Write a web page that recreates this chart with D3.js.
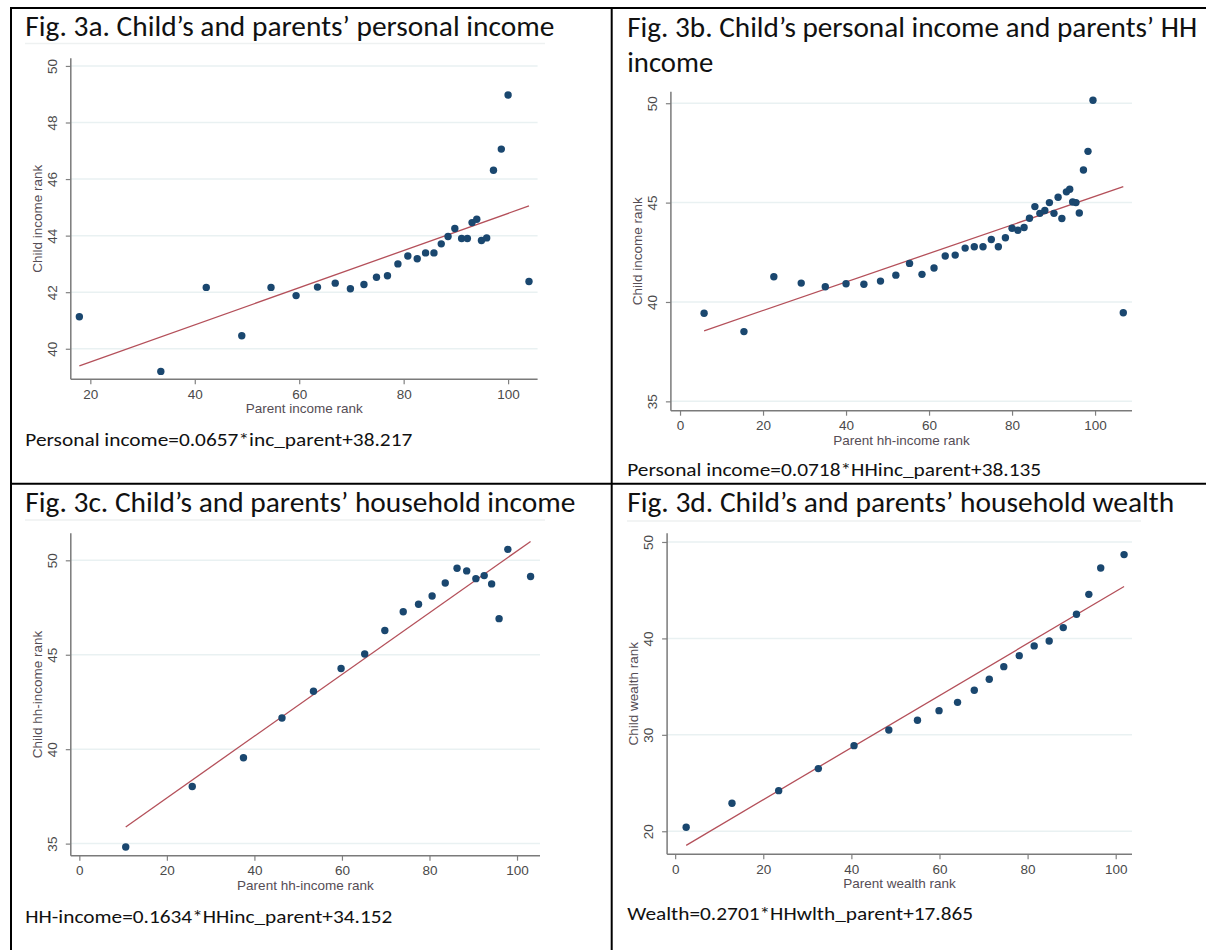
<!DOCTYPE html>
<html lang="en">
<head>
<meta charset="UTF-8">
<title>Fig. 3 intergenerational ranks</title>
<style>
  body { margin: 0; background: #fff; }
  svg { display: block; }
  .ttl { font-family: Carlito, Calibri, Lato, "Open Sans", sans-serif; fill: #111; }
  .tick text { font-family: "Liberation Sans", Arial, sans-serif; font-size: 13.5px; fill: #4a4a4a; }
  .axt { font-family: "Liberation Sans", Arial, sans-serif; font-size: 13.5px; fill: #554d55; }
</style>
</head>
<body>
<svg width="1206" height="950"></svg>
<script src="https://d3js.org/d3.v7.min.js"></script>
<script>
// ---- data ----
// 3a: personal income, child vs parent
const xA = [17.9, 33.5, 42.2, 49.0, 54.6, 59.4, 63.5, 66.9, 69.8, 72.4, 74.8, 76.9, 78.9, 80.8, 82.6,
            84.2, 85.8, 87.2, 88.5, 89.8, 91.1, 92.2, 93.1, 94.0, 94.9, 95.9, 97.2, 98.7, 100.0, 104.0];
const yA = [41.13, 39.2, 42.17, 40.46, 42.17, 41.88, 42.18, 42.32, 42.12, 42.27, 42.53, 42.58, 43.0, 43.28, 43.18,
            43.39, 43.39, 43.71, 43.97, 44.25, 43.9, 43.9, 44.46, 44.58, 43.83, 43.92, 46.31, 47.06, 48.97, 42.38];
// 3b: child personal income vs parents' HH income
const xB = [5.8, 15.4, 22.6, 29.2, 35.0, 40.0, 44.3, 48.3, 52.0, 55.3, 58.3, 61.2, 63.9, 66.3, 68.7, 70.9, 73.0,
            75.0, 76.7, 78.4, 80.0, 81.4, 82.9, 84.2, 85.5, 86.7, 87.9, 89.0, 90.1, 91.1, 92.0, 93.1, 93.9,
            94.6, 95.4, 96.2, 97.2, 98.3, 99.5, 106.8];
const yB = [39.43, 38.51, 41.27, 40.95, 40.77, 40.92, 40.89, 41.05, 41.35, 41.94, 41.39, 41.71, 42.31, 42.36, 42.71, 42.78, 42.78,
            43.14, 42.78, 43.23, 43.71, 43.61, 43.75, 44.21, 44.80, 44.46, 44.60, 45.0, 44.46, 45.27, 44.20, 45.54, 45.67,
            45.03, 45.0, 44.48, 46.64, 47.58, 50.15, 39.46];
// 3c: household income
const xC = [10.6, 25.8, 37.5, 46.3, 53.5, 59.8, 65.2, 69.8, 74.0, 77.5, 80.6, 83.6, 86.3, 88.5, 90.6, 92.5, 94.2, 95.9, 97.9, 103.1];
const yC = [34.82, 38.02, 39.55, 41.65, 43.07, 44.27, 45.04, 46.28, 47.28, 47.67, 48.11, 48.8, 49.58, 49.44, 49.03, 49.19, 48.75, 46.91, 50.58, 49.14];
// 3d: household wealth
const xD = [2.5, 12.9, 23.5, 32.5, 40.6, 48.5, 55.0, 59.9, 64.1, 67.9, 71.3, 74.6, 78.1, 81.5, 84.9, 88.1, 91.1, 93.9, 96.6, 101.9];
const yD = [20.41, 22.9, 24.21, 26.5, 28.88, 30.5, 31.51, 32.51, 33.37, 34.62, 35.76, 37.07, 38.21, 39.22, 39.73, 41.12, 42.5, 44.57, 47.30, 48.69];

// fitted lines (slope, intercept) as printed under each figure
const fitA = [0.0657, 38.217];
const fitB = [0.0718, 38.135];
const fitC = [0.1634, 34.152];
const fitD = [0.2701, 17.865];

// tick labels
const xTicks0 = [0, 20, 40, 60, 80, 100];
const xTicksA = [20, 40, 60, 80, 100];
const yTicksA = [40, 42, 44, 46, 48, 50];
const yTicksB = [35, 40, 45, 50];
const yTicksC = [35, 40, 45, 50];
const yTicksD = [20, 30, 40, 50];

const svg = d3.select("svg");

// table frame
const frame = svg.append("g").attr("stroke", "#000").attr("stroke-width", 2);
frame.append("line").attr("x1", 10).attr("x2", 1206).attr("y1", 8).attr("y2", 8);
frame.append("line").attr("x1", 11).attr("x2", 11).attr("y1", 7).attr("y2", 950);
frame.append("line").attr("x1", 611.7).attr("x2", 611.7).attr("y1", 7).attr("y2", 950);
frame.append("line").attr("x1", 10).attr("x2", 1206).attr("y1", 483.7).attr("y2", 483.7);

const panels = [
  { x: xA, y: yA, fit: fitA, xt: xTicksA, yt: yTicksA,
    box: [70.8, 537.6, 58.3, 379.3], xd: [16.26, 105.65], yd: [38.92, 50.27],
    title: [["Fig. 3a. Child’s and parents’ personal income", 25.3, 36, 529]],
    sep: [25, 545, 43.5],
    xlab: "Parent income rank", ylab: "Child income rank",
    formula: ["Personal income=0.0657*inc_parent+38.217", 25.3, 446, 387] },
  { x: xB, y: yB, fit: fitB, xt: xTicks0, yt: yTicksB,
    box: [670.9, 1132, 91.7, 410.7], xd: [-2.2, 108.9], yd: [34.53, 50.58],
    title: [["Fig. 3b. Child’s personal income and parents’ HH", 627.2, 36.7, 570],
            ["income", 627.2, 71.7, 86]],
    sep: null,
    xlab: "Parent hh-income rank", ylab: "Child income rank",
    formula: ["Personal income=0.0718*HHinc_parent+38.135", 627.2, 476, 414] },
  { x: xC, y: yC, fit: fitC, xt: xTicks0, yt: yTicksC,
    box: [70.8, 540, 533.3, 855.7], xd: [-1.95, 105.25], yd: [34.36, 51.43],
    title: [["Fig. 3c. Child’s and parents’ household income", 25.3, 511.7, 550]],
    sep: [25, 545, 520],
    xlab: "Parent hh-income rank", ylab: "Child hh-income rank",
    formula: ["HH-income=0.1634*HHinc_parent+34.152", 25.3, 923, 367] },
  { x: xD, y: yD, fit: fitD, xt: xTicks0, yt: yTicksD,
    box: [667.1, 1132, 533.3, 854.3], xd: [-1.83, 103.7], yd: [17.61, 50.9],
    title: [["Fig. 3d. Child’s and parents’ household wealth", 627.2, 511.7, 547]],
    sep: [627, 1141, 521],
    xlab: "Parent wealth rank", ylab: "Child wealth rank",
    formula: ["Wealth=0.2701*HHwlth_parent+17.865", 627.2, 920, 346] }
];

panels.forEach(p => {
  const [l, r, t, b] = p.box;
  const g = svg.append("g");

  p.title.forEach(([txt, tx, ty, w]) => {
    g.append("text").attr("class", "ttl").attr("x", tx).attr("y", ty)
      .attr("font-size", 28).attr("textLength", w).attr("lengthAdjust", "spacingAndGlyphs")
      .text(txt);
  });
  if (p.sep) {
    g.append("line").attr("x1", p.sep[0]).attr("x2", p.sep[1]).attr("y1", p.sep[2]).attr("y2", p.sep[2])
      .attr("stroke", "#eef1f1").attr("stroke-width", 1.5);
  }

  const x = d3.scaleLinear().domain(p.xd).range([l, r]);
  const y = d3.scaleLinear().domain(p.yd).range([b, t]);

  // grid
  g.append("g").selectAll("line").data(p.yt).join("line")
    .attr("x1", l).attr("x2", r).attr("y1", d => y(d)).attr("y2", d => y(d))
    .attr("stroke", "#e9f1f2").attr("stroke-width", 1.5);

  // axes
  const xa = g.append("g").attr("transform", `translate(0,${b})`)
    .call(d3.axisBottom(x).tickValues(p.xt).tickSize(5).tickPadding(5));
  const ya = g.append("g").attr("transform", `translate(${l},0)`)
    .call(d3.axisLeft(y).tickValues(p.yt).tickSize(5).tickPadding(3));
  [xa, ya].forEach(a => {
    a.select(".domain").remove();
    a.selectAll(".tick line").attr("stroke", "#808080").attr("stroke-width", 1.2);
  });
  ya.selectAll(".tick text")
    .attr("text-anchor", "middle").attr("x", null).attr("dy", null)
    .attr("transform", "translate(-14,0) rotate(-90)")
    .attr("y", 0);
  g.append("line").attr("x1", l).attr("x2", r).attr("y1", b).attr("y2", b)
    .attr("stroke", "#7a7a7a").attr("stroke-width", 1.5);
  g.append("line").attr("x1", l).attr("x2", l).attr("y1", t).attr("y2", b)
    .attr("stroke", "#7a7a7a").attr("stroke-width", 1.5);

  // axis titles
  g.append("text").attr("class", "axt").attr("text-anchor", "middle")
    .attr("x", (l + r) / 2).attr("y", b + 34).text(p.xlab);
  g.append("text").attr("class", "axt").attr("text-anchor", "middle")
    .attr("transform", `translate(${l - 29},${(t + b) / 2}) rotate(-90)`).text(p.ylab);

  // fitted line over the data range
  const ext = d3.extent(p.x);
  const line = d3.line().x(d => x(d)).y(d => y(p.fit[0] * d + p.fit[1]));
  g.append("path").datum(ext).attr("d", line)
    .attr("fill", "none").attr("stroke", "#b4505a").attr("stroke-width", 1.3);

  // points
  g.append("g").selectAll("circle").data(d3.zip(p.x, p.y)).join("circle")
    .attr("cx", d => x(d[0])).attr("cy", d => y(d[1])).attr("r", 3.7)
    .attr("fill", "#1a476f");

  // regression formula
  const [ft, fx, fy, fw] = p.formula;
  g.append("text").attr("class", "ttl").attr("x", fx).attr("y", fy)
    .attr("font-size", 19).attr("textLength", fw).attr("lengthAdjust", "spacingAndGlyphs")
    .text(ft);
});
</script>
</body>
</html>
